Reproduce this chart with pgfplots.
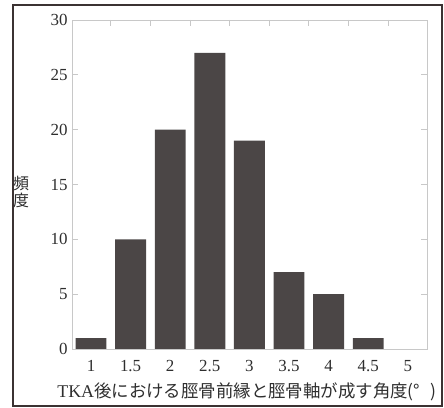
\documentclass[border=0pt]{standalone}
\usepackage{pgfplots}
\pgfplotsset{compat=1.18}
\usepackage{fontspec}
\setmainfont{Liberation Serif}
\newfontfamily\jp{Noto Sans CJK JP}

\definecolor{barcol}{HTML}{4B4646}
\definecolor{axisgray}{HTML}{C8C8C8}
\definecolor{labelgray}{HTML}{2E2E2E}
\definecolor{framecol}{HTML}{3B3232}

\begin{document}
\begin{tikzpicture}
\useasboundingbox (-72bp,-59bp) rectangle (372bp,349bp);

% histogram of the angle frequencies
\begin{axis}[
  at={(0,0)}, anchor=south west,
  scale only axis, width=355bp, height=329bp,
  xmin=0.76, xmax=5.242, ymin=0, ymax=30,
  axis line style={draw=axisgray, line width=1pt},
  xtick={1,1.5,2,2.5,3,3.5,4,4.5,5},
  xticklabels={1,1.5,2,2.5,3,3.5,4,4.5,5},
  xtick pos=left,
  x tick style={draw=none},
  ytick={0,5,...,30},
  ytick pos=both,
  y tick style={axisgray, line width=0.8pt},
  tick align=inside, major tick length=6bp,
  /pgf/number format/assume math mode=true,
  ticklabel style={font=\fontsize{17}{17}\selectfont, text=labelgray},
  xticklabel style={yshift=-2bp},
  yticklabel style={xshift=-1bp},
  ybar, bar width=0.39,
]
\addplot[fill=barcol, draw=none] coordinates {
  (1,1) (1.5,10) (2,20) (2.5,27) (3,19) (3.5,7) (4,5) (4.5,1) (5,0)};
\end{axis}

% bin-edge ticks along the top
\begin{axis}[
  at={(0,0)}, anchor=south west,
  scale only axis, width=355bp, height=329bp,
  xmin=0.76, xmax=5.242, ymin=0, ymax=30,
  axis line style={draw=none},
  xtick={1.25,1.75,2.25,2.75,3.25,3.75,4.25,4.75},
  xticklabels={},
  xtick pos=right,
  ytick=\empty,
  x tick style={axisgray, line width=0.8pt},
  tick align=inside, major tick length=6bp,
]
\end{axis}

\node[font=\jp\fontsize{16}{17}\selectfont, text=labelgray, align=center]
  at (-51bp,157bp) {頻\\度};
\node[font=\jp\fontsize{17.5}{18}\selectfont, text=labelgray]
  at (175bp,-43bp) {{\rmfamily\fontsize{18}{18}\selectfont TKA}後における脛骨前縁と脛骨軸が成す角度(°\hspace{0.6em})};

\draw[line width=1.6bp, framecol] (-59bp,-57bp) rectangle (370bp,344bp);
\end{tikzpicture}
\end{document}
